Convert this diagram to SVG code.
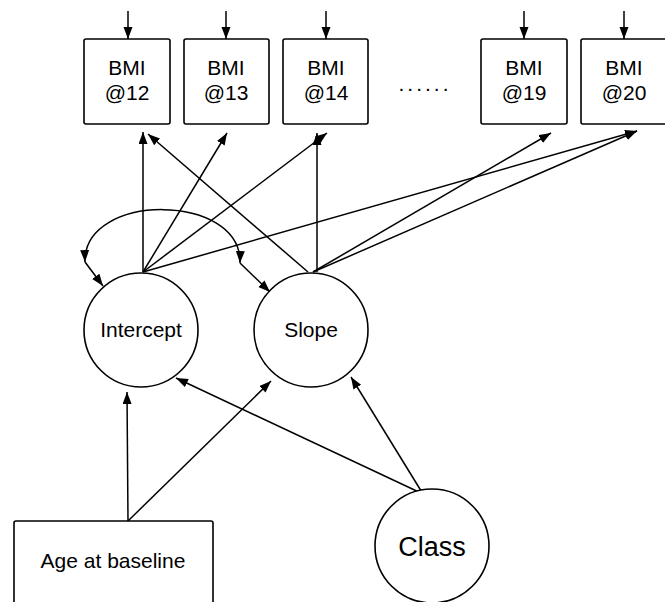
<svg xmlns="http://www.w3.org/2000/svg" width="665" height="602" viewBox="0 0 665 602">
<style>
.box{fill:#fff;stroke:#000;stroke-width:1.6}
.circ{fill:#fff;stroke:#000;stroke-width:1.6}
.t{font-family:"Liberation Sans",Arial,sans-serif;font-size:21px;fill:#000;text-anchor:middle}
.big{font-size:27px}
.c line,.c path{stroke:#000;stroke-width:1.5;fill:none;marker-end:url(#ah)}
</style>
<defs>
<marker id="ah" markerUnits="userSpaceOnUse" markerWidth="13" markerHeight="10" refX="12" refY="4.5" orient="auto-start-reverse">
<path d="M0,0 L12,4.5 L0,9 z" fill="#000"/>
</marker>
</defs>
<rect width="665" height="602" fill="#fff"/>
<g class="c" id="connectors">
<line x1="128" y1="11" x2="128" y2="39"/>
<line x1="226" y1="11" x2="226" y2="39"/>
<line x1="326" y1="11" x2="326" y2="39"/>
<line x1="524" y1="11" x2="524" y2="39"/>
<line x1="624" y1="11" x2="624" y2="39"/>
<line x1="143" y1="272" x2="143" y2="132"/>
<line x1="143" y1="272" x2="227" y2="133"/>
<line x1="143" y1="272" x2="327" y2="133"/>
<line x1="143" y1="272" x2="637" y2="131"/>
<line x1="308" y1="272" x2="148" y2="134"/>
<line x1="317" y1="272" x2="317" y2="133"/>
<line x1="313" y1="272" x2="551" y2="133"/>
<line x1="313" y1="272" x2="637" y2="131"/>
<path d="M85,262 C83,192 242,192 240,263" style="marker-start:url(#ah)"/>
<line x1="85" y1="262" x2="103" y2="286"/>
<line x1="240" y1="263" x2="270" y2="292"/>
<line x1="128" y1="521" x2="127" y2="392"/>
<line x1="128" y1="521" x2="271" y2="381"/>
<line x1="423" y1="494" x2="176" y2="378"/>
<line x1="423" y1="494" x2="351" y2="377"/>
</g>
<g id="bmi12"><rect class="box" x="84" y="39" width="86" height="85" rx="2"/><text class="t" x="127" y="75">BMI</text><text class="t" x="127" y="100">@12</text></g>
<g id="bmi13"><rect class="box" x="184" y="39" width="85" height="85" rx="2"/><text class="t" x="226" y="75">BMI</text><text class="t" x="226" y="100">@13</text></g>
<g id="bmi14"><rect class="box" x="283" y="39" width="85" height="85" rx="2"/><text class="t" x="326" y="75">BMI</text><text class="t" x="326" y="100">@14</text></g>
<g id="dots"><text class="t" x="425" y="91" style="letter-spacing:3px">......</text></g>
<g id="bmi19"><rect class="box" x="481" y="39" width="86" height="85" rx="2"/><text class="t" x="524" y="75">BMI</text><text class="t" x="524" y="100">@19</text></g>
<g id="bmi20"><rect class="box" x="581" y="39" width="86" height="85" rx="2"/><text class="t" x="624" y="75">BMI</text><text class="t" x="624" y="100">@20</text></g>
<g id="intercept"><circle class="circ" cx="141" cy="330" r="57"/><text class="t" x="141" y="337">Intercept</text></g>
<g id="slope"><circle class="circ" cx="311" cy="330" r="57"/><text class="t" x="311" y="337">Slope</text></g>
<g id="age"><rect class="box" x="14" y="521" width="199" height="100" rx="2"/><text class="t" x="113" y="568">Age at baseline</text></g>
<g id="class"><circle class="circ" cx="432" cy="546" r="57"/><text class="t big" x="432" y="556">Class</text></g>
</svg>
